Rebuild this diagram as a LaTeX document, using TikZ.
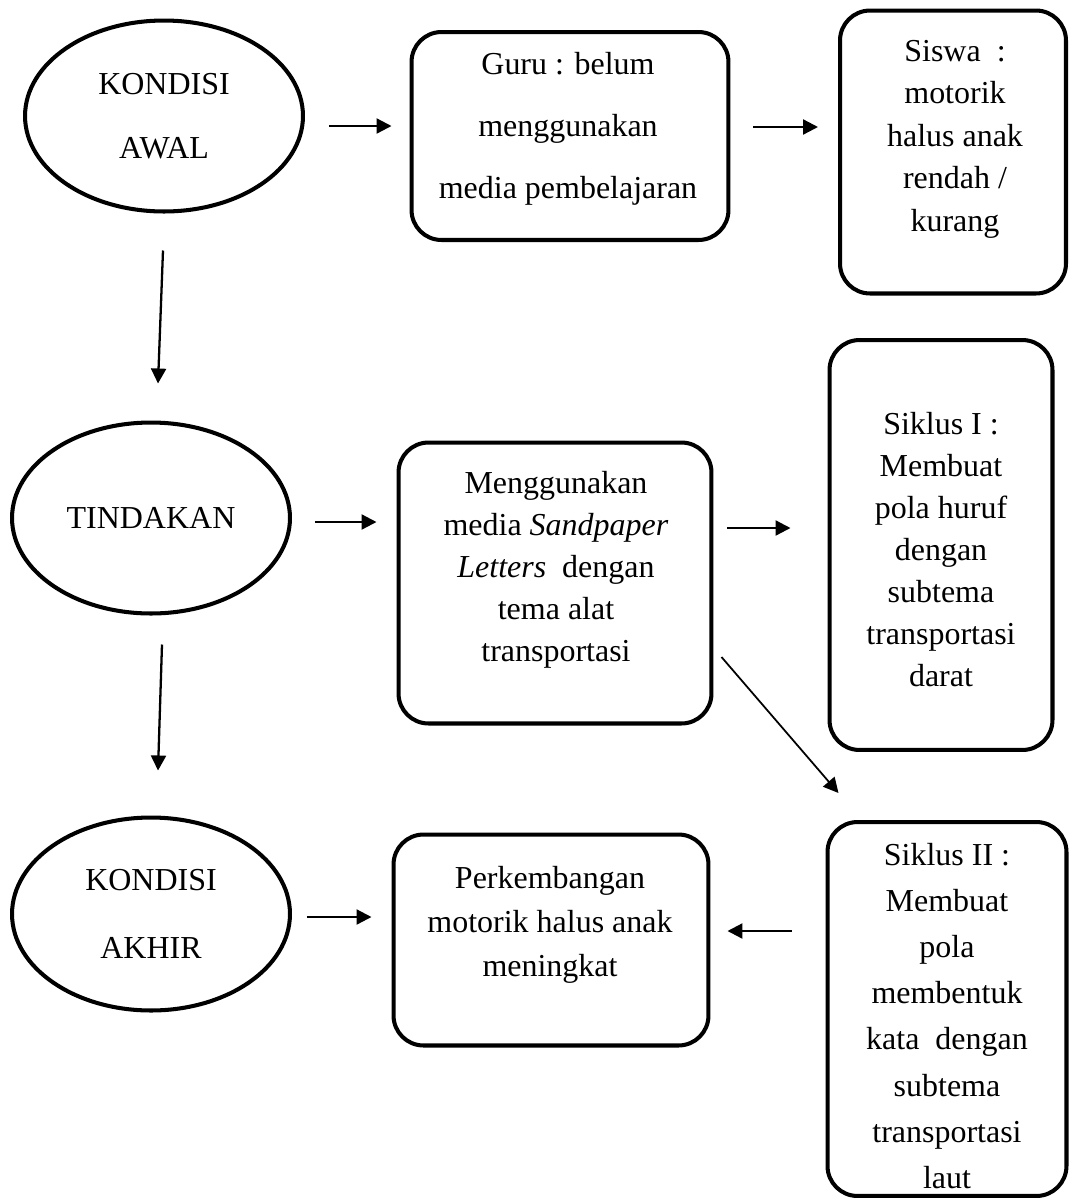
\documentclass[tikz,border=0pt]{standalone}
\usepackage{fontspec}
\setmainfont{Liberation Serif}
\usetikzlibrary{arrows.meta,shapes.geometric,calc}
\begin{document}
\begin{tikzpicture}[x=0.02cm,y=-0.02cm]
            \tikzstyle{arrow}=[line width=1.3pt,-{Triangle[length=0.3cm,width=0.3cm]}]
            \tikzstyle{oval}=[draw,ellipse,line width=2.3pt,inner sep=0pt,minimum width=5.56cm,minimum height=3.82cm]
            \tikzstyle{box}=[draw,line width=2.3pt,rounded corners=0.6cm]
            \tikzstyle{txt}=[align=center,inner sep=0pt]
            \useasboundingbox (0,0) rectangle (1070,1201);
            % kondisi awal
            \node[oval,txt,font=\fontsize{18.2pt}{36.4pt}\selectfont] (awal) at (164,116) {KONDISI\\AWAL};
            \node[box,minimum width=6.34cm,minimum height=4.16cm] (guru) at (570,136) {};
            \node[txt,font=\fontsize{18.2pt}{35.3pt}\selectfont] (gurutxt) at (568,129) {Guru : belum\\menggunakan\\media pembelajaran};
            \node[box,minimum width=4.52cm,minimum height=5.66cm] (siswa) at (953,152) {};
            \node[txt,font=\fontsize{18.2pt}{24.2pt}\selectfont] (siswatxt) at (955,139) {Siswa~~:\\motorik\\halus anak\\rendah /\\kurang};
            % tindakan
            \node[oval,txt,font=\fontsize{18.2pt}{38.7pt}\selectfont] (tindakan) at (151,518) {TINDAKAN};
            \node[box,minimum width=6.26cm,minimum height=5.62cm] (aksi) at (555,583) {};
            \node[txt,font=\fontsize{18.2pt}{23.9pt}\selectfont] (aksitxt) at (556,570) {Menggunakan\\media \textit{Sandpaper}\\\textit{Letters}~~dengan\\tema alat\\transportasi};
            \node[box,minimum width=4.46cm,minimum height=8.2cm] (siklus1) at (941,545) {};
            \node[txt,font=\fontsize{18.2pt}{23.9pt}\selectfont] (siklus1txt) at (941,550) {Siklus I :\\Membuat\\pola huruf\\dengan\\subtema\\transportasi\\darat};
            % kondisi akhir
            \node[oval,txt,font=\fontsize{18.2pt}{38.7pt}\selectfont,minimum height=3.86cm] (akhir) at (151,914) {KONDISI\\AKHIR};
            \node[box,minimum width=6.3cm,minimum height=4.22cm] (hasil) at (551,940) {};
            \node[txt,font=\fontsize{18.2pt}{25pt}\selectfont] (hasiltxt) at (550,925) {Perkembangan\\motorik halus anak\\meningkat};
            \node[box,minimum width=4.78cm,minimum height=7.48cm] (siklus2) at (947,1009) {};
            \node[txt,font=\fontsize{18.2pt}{26.2pt}\selectfont] (siklus2txt) at (947,1016) {Siklus II :\\Membuat\\pola\\membentuk\\kata~~dengan\\subtema\\transportasi\\laut};
            % arrows
            \draw[arrow] ($(awal.east)+(24,10)$) -- ($(guru.west)+(-18,-10)$);
            \draw[arrow] ($(guru.east)+(23,-9)$) -- ($(siswa.west)+(-20,-25)$);
            \draw[arrow] ($(awal.south)+(-1,37)$) -- ($(tindakan.north)+(7,-37)$);
            \draw[arrow] ($(tindakan.east)+(23,4)$) -- ($(aksi.west)+(-20,-61)$);
            \draw[arrow] ($(aksi.east)+(14,-55)$) -- ($(siklus1.west)+(-37,-17)$);
            \draw[arrow,line width=1pt] ($(aksi.east)+(8,74)$) -- ($(siklus2.north west)+(13,-27)$);
            \draw[arrow] ($(tindakan.south)+(11,29)$) -- ($(akhir.north)+(7,-45)$);
            \draw[arrow] ($(akhir.east)+(15,3)$) -- ($(hasil.west)+(-20,-23)$);
            \draw[arrow] ($(siklus2.west)+(-34,-78)$) -- ($(hasil.east)+(17,-9)$);
\end{tikzpicture}
\end{document}
